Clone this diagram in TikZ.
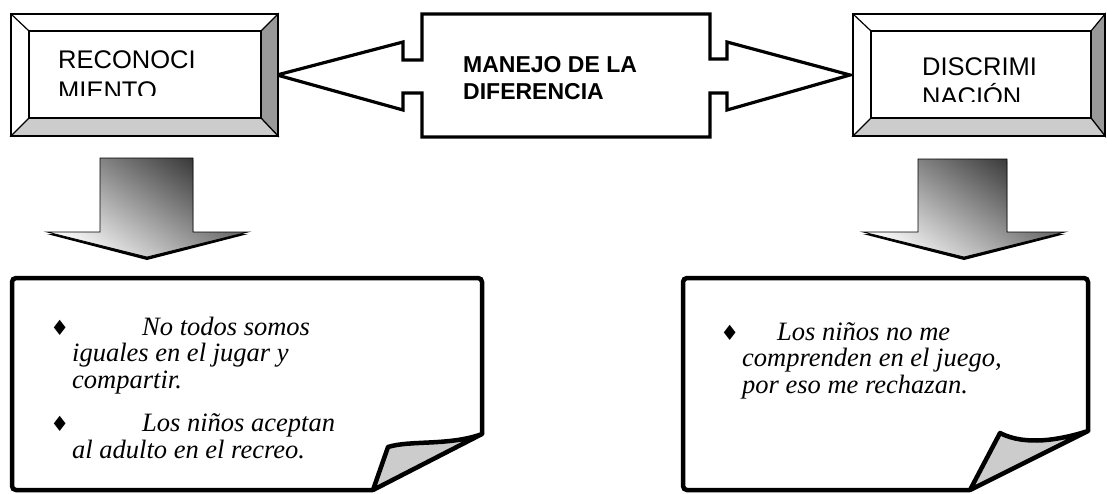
\documentclass[tikz,border=0pt]{standalone}
\usepackage{fontspec}
\setmainfont{Liberation Serif}
\setsansfont{Liberation Sans}
\newfontfamily\symfont{DejaVu Sans}
\definecolor{bevelright}{gray}{0.6}
\definecolor{bevelbottom}{gray}{0.8}
\definecolor{foldgray}{gray}{0.8}
\tikzset{
  bevel/.style={draw=black,line width=2.6pt,line join=miter},
  bevelcut/.style={draw=black,line width=1.2pt},
  boxtext/.style={font=\sffamily\fontsize{25.5}{30}\selectfont,align=left,inner sep=0pt},
  titletext/.style={font=\sffamily\bfseries\fontsize{23}{27}\selectfont,align=left,inner sep=0pt},
  notetext/.style={font=\itshape\fontsize{26.5}{26.5}\selectfont,align=left,inner sep=0pt},
  bigarrow/.style={draw=black,line width=3.2pt,line join=miter,fill=white},
  downarrow/.style={draw=black,line width=0.8pt,shading=axis,top color=black!80,bottom color=black!3,shading angle=-35},
  notebox/.style={draw=black,line width=4.5pt,rounded corners=4pt},
  fold/.style={draw=black,line width=4.5pt,line join=round,fill=foldgray}
}
\newcommand{\dia}{\llap{{\upshape\symfont\fontsize{21}{21}\selectfont\char"2666}\hspace{3pt}}}
% outer box x1,y1,x2,y2 then inner box x1,y1,x2,y2
\newcommand{\bevelbox}[8]{
  \fill[white] (#1,#2) rectangle (#3,#4);
  \filldraw[bevelcut,fill=bevelright] (#3,#2) -- (#7,#6) -- (#7,#8) -- (#3,#4) -- cycle;
  \filldraw[bevelcut,fill=bevelbottom] (#1,#4) -- (#5,#8) -- (#7,#8) -- (#3,#4) -- cycle;
  \draw[bevelcut] (#1,#2) -- (#5,#6);
  \draw[bevel] (#1,#2) rectangle (#3,#4);
  \draw[bevel] (#5,#6) rectangle (#7,#8);
}

\begin{document}
\begin{tikzpicture}[x=1pt,y=-1pt]
  \useasboundingbox (0,0) rectangle (1107,493);

  % top row
  \draw[bigarrow] (277,75) -- (403,42) -- (403,60) -- (422,60) -- (422,14) -- (710,14)
    -- (710,59) -- (727,59) -- (727,42) -- (850,75) -- (727,110) -- (727,93) -- (710,93)
    -- (710,137) -- (422,137) -- (422,93) -- (403,93) -- (403,110) -- cycle;
  \node[titletext,anchor=base west] (manejo) at (463,72) {MANEJO DE LA};
  \node[titletext,anchor=base west] (dif) at (463,99) {DIFERENCIA};

  \bevelbox{11}{14}{278}{136}{29}{31}{261}{118}
  \begin{scope}
    \clip (29,31) rectangle (261,95);
    \node[boxtext,anchor=base west] (reco) at (58,68) {RECONOCI};
    \node[boxtext,anchor=base west] (reco2) at (58,99) {MIENTO};
  \end{scope}

  \bevelbox{853}{14}{1105}{136}{871}{31}{1091}{118}
  \begin{scope}
    \clip (871,31) rectangle (1091,101);
    \node[boxtext,anchor=base west] (disc) at (922,75) {DISCRIMI};
    \node[boxtext,anchor=base west] (disc2) at (922,105) {NACIÓN};
  \end{scope}

  % down arrows
  \fill[black] (100,160) -- (193,160) -- (193,234) -- (248,234) -- (147,260) -- (47,234) -- (100,234) -- cycle;
  \draw[downarrow] (100,158) -- (193,158) -- (193,232) -- (248,232) -- (147,257) -- (47,232) -- (100,232) -- cycle;
  \fill[black] (918,161) -- (1007,161) -- (1007,234) -- (1065,234) -- (964,260) -- (863,234) -- (918,234) -- cycle;
  \draw[downarrow] (918,159) -- (1007,159) -- (1007,232) -- (1065,232) -- (964,257) -- (863,232) -- (918,232) -- cycle;

  % note boxes
  \draw[notebox] (373,490) -- (12,490) -- (12,278) -- (482,278) -- (482,434);
  \filldraw[fold] (482,434) .. controls (450,446) and (410,440) .. (388,447) -- (373,490) -- cycle;
  \node[notetext,anchor=base west] (rec1) at (72,388) {\dia\hspace{70pt}No todos somos\\iguales en el jugar y\\compartir.};
  \node[notetext,anchor=base west] (rec2) at (72,458) {\dia\hspace{70pt}Los niños aceptan\\al adulto en el recreo.};

  \draw[notebox] (970,490) -- (683,490) -- (683,278) -- (1088,278) -- (1088,431);
  \filldraw[fold] (1088,431) .. controls (1060,440) and (1025,446) .. (1000,433) -- (970,490) -- cycle;
  \node[notetext,anchor=base west] (dis1) at (742,393) {\dia\hspace{35pt}Los niños no me\\comprenden en el juego,\\por eso me rechazan.};
\end{tikzpicture}
\end{document}
